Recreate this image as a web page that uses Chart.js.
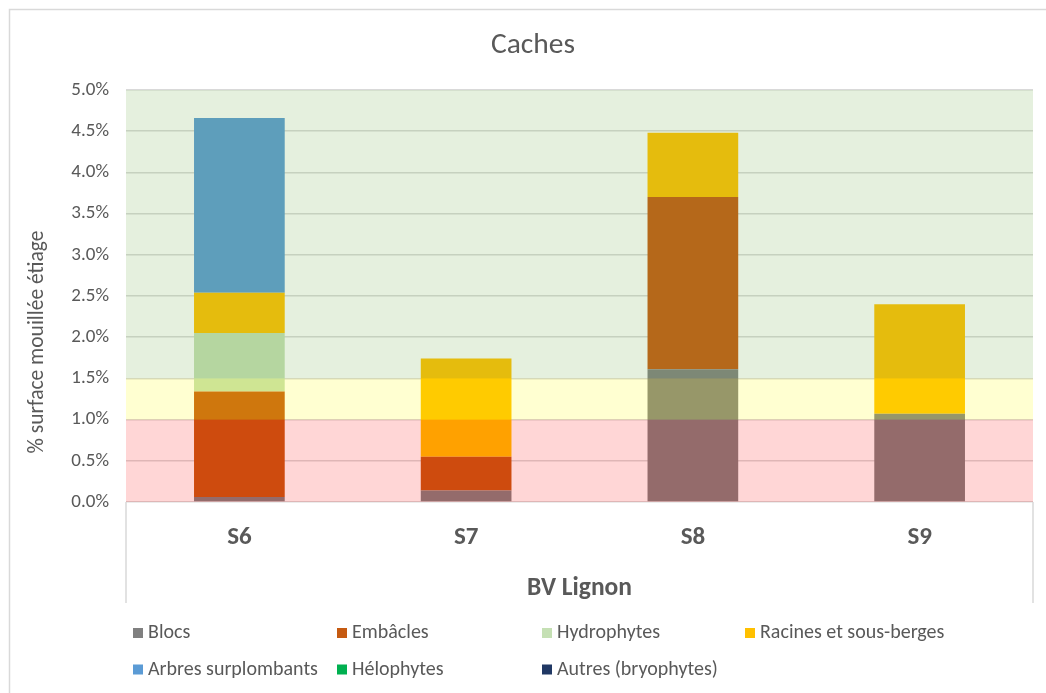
<!DOCTYPE html>
<html lang="fr">
<head>
<meta charset="UTF-8">
<title>Caches</title>
<script src="https://cdn.jsdelivr.net/npm/chart.js@4.4.1/dist/chart.umd.min.js"></script>
<style>
  body { margin: 0; background: #fff; }
  #wrap { width: 1046px; height: 693px; }
</style>
</head>
<body>
<div id="wrap"><canvas id="myChart" width="1046" height="693"></canvas></div>
<script>
// stations et surfaces (% surface mouillee etiage)
var stations = ['S6', 'S7', 'S8', 'S9'];
var blocs = [0.06, 0.14, 1.61, 1.07];
var embacles = [1.28, 0.41, 2.09, 0];
var hydrophytes = [0.71, 0, 0, 0];
var racines = [0.49, 1.19, 0.78, 1.33];
var arbres = [2.12, 0, 0, 0];
var helophytes = [0, 0, 0, 0];
var autres = [0, 0, 0, 0];

// classes de qualite en fond
var bandLimits = [0, 1, 1.5, 5];
var bandColors = ['rgba(255,0,0,0.16)', 'rgba(255,255,0,0.18)', 'rgba(112,173,71,0.18)'];

var FONT = 'Carlito, Lato, "Open Sans", sans-serif';
var GREY = '#595959';

// bandes par-dessus les barres, cadre, titres et legende
var decor = {
    id: 'decor',
    afterDatasetsDraw: function (chart) {
        var ctx = chart.ctx, a = chart.chartArea, y = chart.scales.y;
        ctx.save();
        for (var i = 0; i < bandColors.length; i++) {
            var top = y.getPixelForValue(bandLimits[i + 1]);
            var bot = y.getPixelForValue(bandLimits[i]);
            ctx.fillStyle = bandColors[i];
            ctx.fillRect(a.left, top, a.right - a.left, bot - top);
        }
        ctx.restore();
    },
    afterDraw: function (chart) {
        var ctx = chart.ctx, a = chart.chartArea;
        ctx.save();
        ctx.strokeStyle = '#D9D9D9';
        ctx.lineWidth = 1.5;
        ctx.strokeRect(9.5, 9.5, 1100, 800);
        ctx.beginPath();
        ctx.moveTo(a.left, a.bottom);
        ctx.lineTo(a.left, 603);
        ctx.moveTo(a.right, a.bottom);
        ctx.lineTo(a.right, 603);
        ctx.stroke();

        ctx.fillStyle = GREY;
        ctx.textAlign = 'center';
        ctx.textBaseline = 'middle';
        ctx.font = '29.5px ' + FONT;
        ctx.fillText('Caches', 533, 46);

        ctx.translate(38, 342);
        ctx.rotate(-Math.PI / 2);
        ctx.font = '21.5px ' + FONT;
        ctx.fillText('% surface mouillée étiage', 0, 0);
        ctx.restore();

        var cols = [133, 337, 542, 745];
        var rows = [633, 669.5];
        ctx.save();
        ctx.font = '20px ' + FONT;
        ctx.textBaseline = 'middle';
        chart.data.datasets.forEach(function (ds, i) {
            var x = cols[i % 4], yy = rows[Math.floor(i / 4)];
            ctx.fillStyle = ds.backgroundColor;
            ctx.fillRect(x, yy - 5, 10, 10);
            ctx.fillStyle = GREY;
            ctx.fillText(ds.label, x + 15, yy);
        });
        ctx.restore();
    }
};

var ctx = document.getElementById('myChart').getContext('2d');
var myChart = new Chart(ctx, {
    type: 'bar',
    data: {
        labels: stations,
        datasets: [
            { label: 'Blocs', data: blocs, backgroundColor: '#808080' },
            { label: 'Embâcles', data: embacles, backgroundColor: '#C55A11' },
            { label: 'Hydrophytes', data: hydrophytes, backgroundColor: '#C5E0B4' },
            { label: 'Racines et sous-berges', data: racines, backgroundColor: '#FFC000' },
            { label: 'Arbres surplombants', data: arbres, backgroundColor: '#5B9BD5' },
            { label: 'Hélophytes', data: helophytes, backgroundColor: '#00B050' },
            { label: 'Autres (bryophytes)', data: autres, backgroundColor: '#203864' }
        ]
    },
    options: {
        responsive: false,
        animation: false,
        layout: { padding: { top: 90, right: 13, bottom: 0, left: 0 } },
        datasets: { bar: { barPercentage: 0.4, categoryPercentage: 1 } },
        plugins: {
            legend: { display: false },
            tooltip: { enabled: false },
            title: { display: false }
        },
        scales: {
            x: {
                stacked: true,
                grid: { display: false },
                border: { display: false },
                ticks: { color: GREY, font: { family: FONT, size: 25, weight: 'bold' }, padding: 13 },
                title: {
                    display: true,
                    text: 'BV Lignon',
                    color: GREY,
                    font: { family: FONT, size: 25.5, weight: 'bold' },
                    padding: { top: 0, bottom: 89 }
                },
                afterFit: function (s) { s.height = 191; }
            },
            y: {
                stacked: true,
                min: 0,
                max: 5,
                grid: { color: '#D9D9D9', lineWidth: 1.5, drawTicks: false },
                border: { display: false },
                ticks: {
                    stepSize: 0.5,
                    color: GREY,
                    padding: 17,
                    font: { family: FONT, size: 19 },
                    callback: function (v) { return v.toFixed(1) + '%'; }
                },
                afterFit: function (s) { s.width = 126; }
            }
        }
    },
    plugins: [decor]
});
</script>
</body>
</html>
